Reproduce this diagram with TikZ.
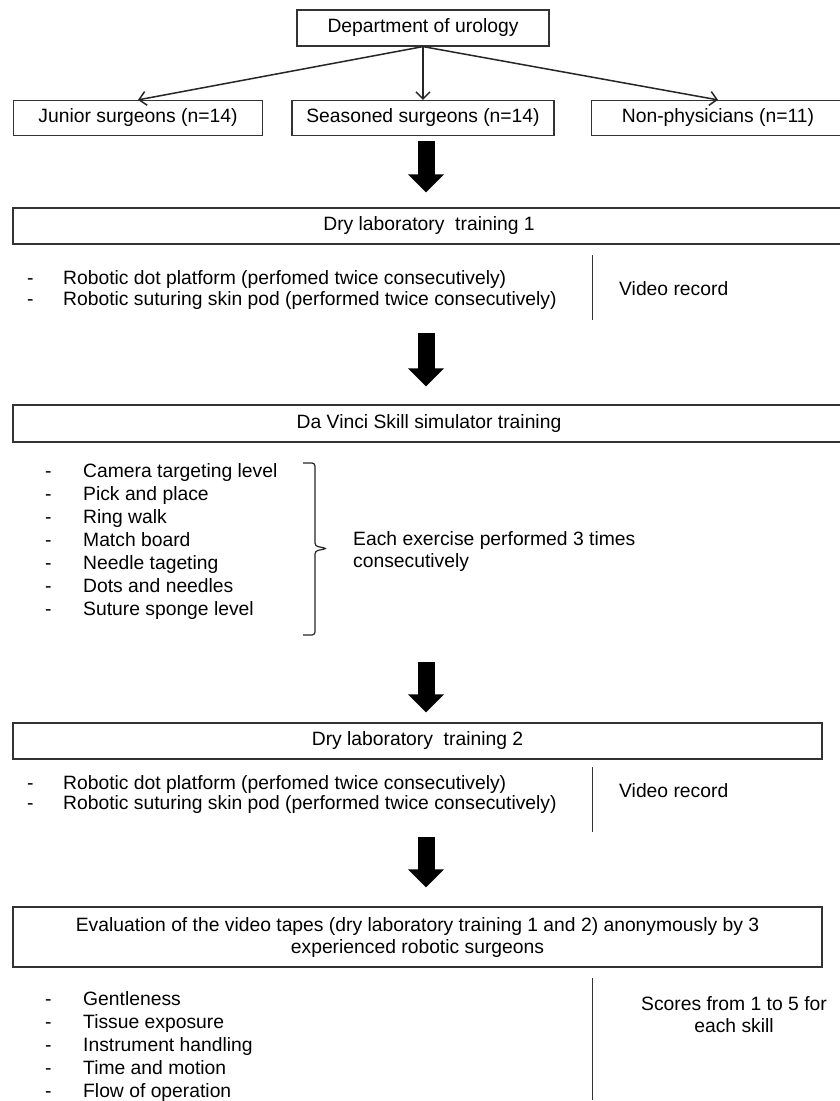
\documentclass[tikz,border=0pt]{standalone}
\usepackage{fontspec}
\setmainfont{Liberation Sans}
\usetikzlibrary{arrows.meta}

\begin{document}
\begin{tikzpicture}[x=1pt,y=-1pt]
   \tikzstyle{every node}=[font=\fontsize{19.3}{23}\selectfont, inner sep=0pt]
   \tikzstyle{box}=[draw=black!80, line width=1.2pt, text height=13.5pt, text depth=4pt]
   \tikzstyle{item}=[anchor=base west]
   \tikzstyle{divider}=[draw=black!80, line width=1pt]
   \tikzstyle{branch}=[draw=black!85, line width=1.5pt, -{Straight Barb[length=7pt,width=14pt]}]
   \tikzstyle{bigarrow}=[line width=17pt, -{Triangle[length=18pt,width=35pt]}]

\useasboundingbox (0,0) rectangle (840,1101);
\fill[white] (0,0) rectangle (840,1101);

% groups
\node[box, minimum width=252pt, minimum height=36pt] (dept) at (423,28) {Department of urology};
\node[box, minimum width=249pt, minimum height=35pt] (junior) at (138,118) {Junior surgeons (n=14)};
\node[box, minimum width=262pt, minimum height=35pt] (seasoned) at (423,118) {Seasoned surgeons (n=14)};
\node[box, minimum width=253pt, minimum height=35pt] (nonphys) at (718,118) {Non-physicians (n=11)};
\draw[branch] (dept.south) -- (junior.north);
\draw[branch] (dept.south) -- (seasoned.north);
\draw[branch] (dept.south) -- (nonphys.north);

% dry lab 1
\node[box, minimum width=832pt, minimum height=36pt] (dry1) at (429,226) {Dry laboratory\ \ training 1};
\node[item] (dot1) at (27,284) {\makebox[36pt][l]{-}Robotic dot platform (perfomed twice consecutively)};
\node[item] (pod1) at (27,305) {\makebox[36pt][l]{-}Robotic suturing skin pod (performed twice consecutively)};
\draw[divider] (592,255) -- (592,320);
\node[item] (video1) at (619,295) {Video record};

% simulator
\node[box, minimum width=832pt, minimum height=37pt] (sim) at (429,423.5) {Da Vinci Skill simulator training};
\node[item] (ex1) at (45,477) {\makebox[38pt][l]{-}Camera targeting level};
\node[item] (ex2) at (45,500) {\makebox[38pt][l]{-}Pick and place};
\node[item] (ex3) at (45,523) {\makebox[38pt][l]{-}Ring walk};
\node[item] (ex4) at (45,546) {\makebox[38pt][l]{-}Match board};
\node[item] (ex5) at (45,569) {\makebox[38pt][l]{-}Needle tageting};
\node[item] (ex6) at (45,592) {\makebox[38pt][l]{-}Dots and needles};
\node[item] (ex7) at (45,615) {\makebox[38pt][l]{-}Suture sponge level};
\draw[line width=1.2pt, draw=black!85, rounded corners=3pt]
   (303,463) -- (315,463) -- (315,546) -- (327,548.5) -- (315,551) -- (315,635) -- (303,635);
\node[item] (each) at (353,545) {Each exercise performed 3 times};
\node[item] (each2) at (353,567) {consecutively};

% dry lab 2
\node[box, minimum width=809pt, minimum height=36pt] (dry2) at (417.5,741) {Dry laboratory\ \ training 2};
\node[item] (dot2) at (27,789) {\makebox[36pt][l]{-}Robotic dot platform (perfomed twice consecutively)};
\node[item] (pod2) at (27,809) {\makebox[36pt][l]{-}Robotic suturing skin pod (performed twice consecutively)};
\draw[divider] (592,767) -- (592,832);
\node[item] (video2) at (619,797) {Video record};

% evaluation
\node[draw=black!80, line width=1.2pt, align=center, minimum width=809pt, minimum height=60pt, font=\fontsize{19.3}{22}\selectfont] (eval) at (417.5,937)
   {Evaluation of the video tapes (dry laboratory training 1 and 2) anonymously by 3\\experienced robotic surgeons};
\node[item] (sk1) at (45,1005) {\makebox[38pt][l]{-}Gentleness};
\node[item] (sk2) at (45,1028) {\makebox[38pt][l]{-}Tissue exposure};
\node[item] (sk3) at (45,1051) {\makebox[38pt][l]{-}Instrument handling};
\node[item] (sk4) at (45,1074) {\makebox[38pt][l]{-}Time and motion};
\node[item] (sk5) at (45,1097) {\makebox[38pt][l]{-}Flow of operation};
\draw[divider] (592,978) -- (592,1100);
\node[anchor=base] (score) at (734,1010) {Scores from 1 to 5 for};
\node[anchor=base] (score2) at (734,1032) {each skill};

% big arrows
\coordinate (a1) at (426,141);
\coordinate (a2) at (426,333);
\coordinate (a3) at (426,662);
\coordinate (a4) at (426,837);
\draw[bigarrow, shorten >=15pt] (a1) -- (a1 |- dry1.north);
\draw[bigarrow, shorten >=18pt] (a2) -- (a2 |- sim.north);
\draw[bigarrow, shorten >=10pt] (a3) -- (a3 |- dry2.north);
\draw[bigarrow, shorten >=19pt] (a4) -- (a4 |- eval.north);

\end{tikzpicture}
\end{document}
